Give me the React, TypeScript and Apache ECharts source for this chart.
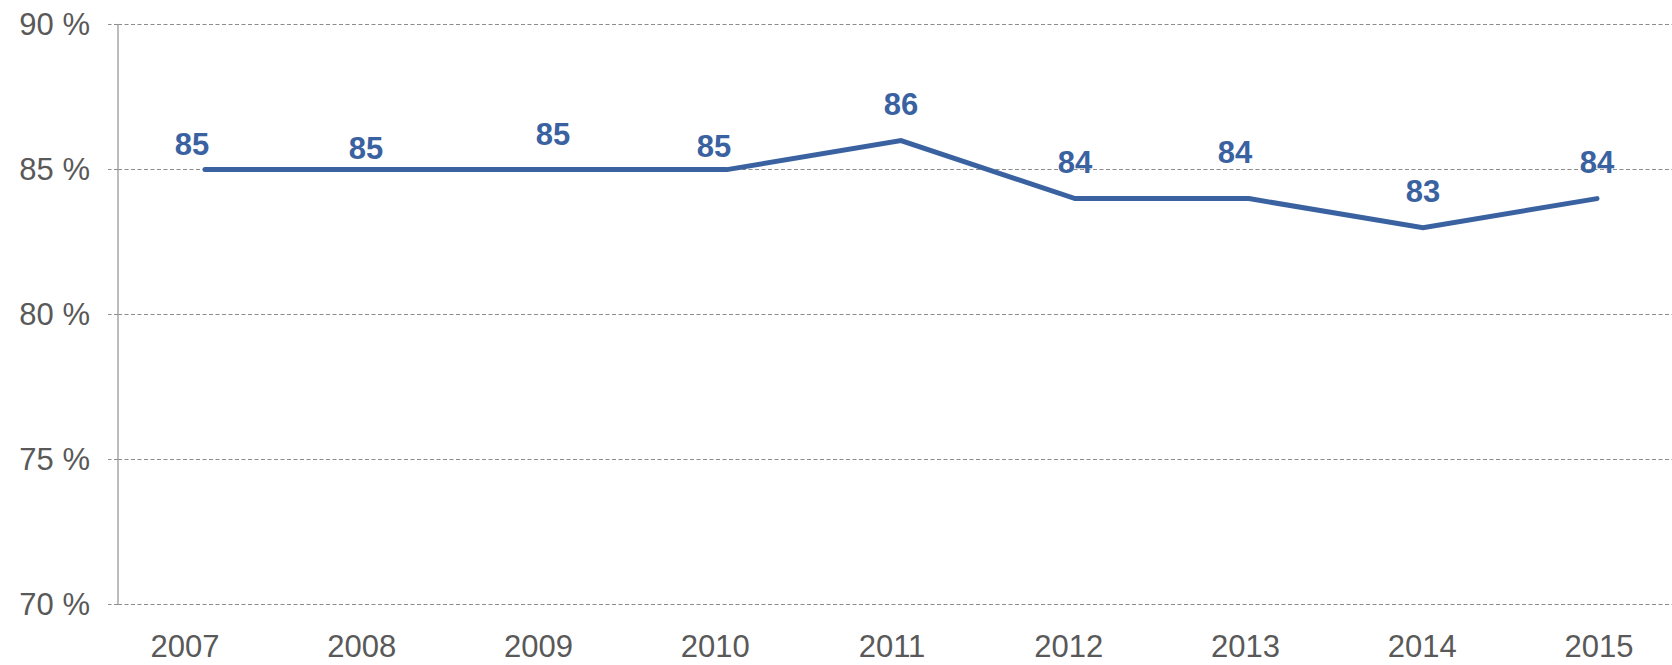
import React, { useEffect, useRef } from "react";
import * as echarts from "echarts";

const categories = ["2007", "2008", "2009", "2010", "2011", "2012", "2013", "2014", "2015"];
const values = [85, 85, 85, 85, 86, 84, 84, 83, 84];
const yTicks = { min: 70, max: 90, interval: 5 };
// label nudges (layout only, px)
const labelNudge: [number, number][] = [
  [-13, -25], [-13, -21], [0, -35], [-13, -23], [0, -36], [0, -36], [-14, -46], [0, -36], [0, -36],
];

const BLUE = "#3A62A1";
const GREY_TEXT = "#595959";
const FONT = "'Liberation Sans', Arial, Helvetica, sans-serif";
const CHART_W = 1700;

export default function App() {
  const ref = useRef<HTMLDivElement>(null);
  useEffect(() => {
    if (!ref.current) return;
    const chart = echarts.init(ref.current, null, { renderer: "svg" });
    chart.setOption({
      animation: false,
      backgroundColor: "#ffffff",
      grid: [
        { left: 118, right: CHART_W - 1684, top: 24.6, bottom: 60.4 },
        { left: 96.6, right: CHART_W - 1687.4, top: 24.6, bottom: 60.4 },
      ],
      xAxis: [
        {
          type: "category",
          gridIndex: 0,
          data: categories,
          boundaryGap: true,
          axisLine: { show: false },
          axisTick: { show: false },
          axisLabel: { show: false },
          splitLine: { show: false },
        },
        {
          type: "category",
          gridIndex: 1,
          data: categories,
          boundaryGap: true,
          axisLine: { show: false },
          axisTick: { show: false },
          axisLabel: {
            show: true,
            margin: 26,
            color: GREY_TEXT,
            fontSize: 31,
            fontFamily: FONT,
          },
          splitLine: { show: false },
        },
      ],
      yAxis: [
        {
          type: "value",
          gridIndex: 0,
          min: yTicks.min,
          max: yTicks.max,
          interval: yTicks.interval,
          axisLine: { show: true, lineStyle: { color: "#A6A6A6", width: 1.5 } },
          axisTick: { show: true, length: 10, lineStyle: { color: "#8C8C8C", type: [4, 2.5] } },
          axisLabel: {
            margin: 28,
            color: GREY_TEXT,
            fontSize: 31,
            fontFamily: FONT,
            formatter: "{value} %",
          },
          splitLine: { show: true, lineStyle: { color: "#8C8C8C", width: 1, type: [4, 2.5] } },
        },
        {
          type: "value",
          gridIndex: 1,
          min: yTicks.min,
          max: yTicks.max,
          interval: yTicks.interval,
          show: false,
          splitLine: { show: false },
        },
      ],
      series: [
        {
          type: "line",
          xAxisIndex: 0,
          yAxisIndex: 0,
          data: values.map((v, i) => ({
            value: v,
            label: { offset: labelNudge[i] },
          })),
          symbol: "circle",
          symbolSize: 0.1,
          showSymbol: true,
          itemStyle: { color: BLUE },
          lineStyle: { color: BLUE, width: 5, cap: "round", join: "miter" },
          label: {
            show: true,
            position: "inside",
            align: "center",
            verticalAlign: "middle",
            color: BLUE,
            fontSize: 31,
            fontWeight: "bold",
            fontFamily: FONT,
          },
        },
      ],
    });
    return () => chart.dispose();
  }, []);
  return (
    <div
      style={{ position: "absolute", left: 0, top: 0, width: 1672, height: 665, overflow: "hidden", background: "#fff" }}
    >
      <div ref={ref} style={{ width: CHART_W, height: 665 }} />
    </div>
  );
}
